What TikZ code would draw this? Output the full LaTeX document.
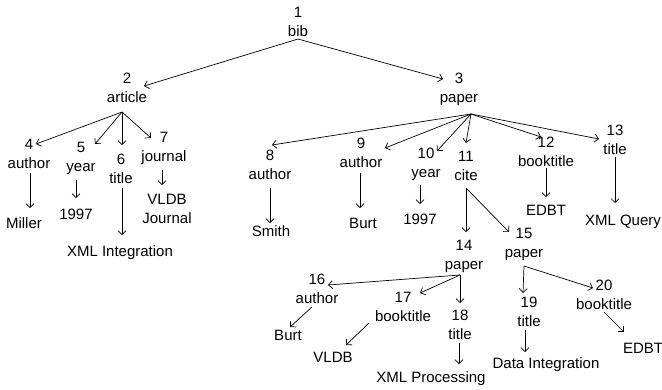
\documentclass[tikz,border=0pt]{standalone}
\usepackage{fontspec}
\setmainfont{Liberation Sans}
\usetikzlibrary{arrows.meta}
\begin{document}
\begin{tikzpicture}[x=1pt,y=-1pt,
  every node/.style={inner sep=0pt, font=\fontsize{15}{19}\selectfont},
  elem/.style={align=center, anchor=north},
  leaf/.style={anchor=base},
  edge/.style={line width=0.7pt, -{Straight Barb[length=4pt,width=8pt]}}]
\useasboundingbox (0,0) rectangle (662,389);
% element nodes
\node[elem] (n1) at (298,6.6) {1\\bib};
\node[elem] (n2) at (127,72.6) {2\\article};
\node[elem] (n3) at (459,72.6) {3\\paper};
\node[elem] (n4) at (29,138.6) {4\\author};
\node[elem] (n5) at (81,141.6) {5\\year};
\node[elem] (n6) at (121,153.6) {6\\title};
\node[elem] (n7) at (164,131.6) {7\\journal};
\node[elem] (n8) at (270,149.6) {8\\author};
\node[elem] (n9) at (361,137.6) {9\\author};
\node[elem] (n10) at (426,147.6) {10\\year};
\node[elem] (n11) at (466,150.6) {11\\cite};
\node[elem] (n12) at (546,136.6) {12\\booktitle};
\node[elem] (n13) at (615,124.6) {13\\title};
\node[elem] (n14) at (464,239.6) {14\\paper};
\node[elem] (n15) at (524,227.6) {15\\paper};
\node[elem] (n16) at (317,273.6) {16\\author};
\node[elem] (n17) at (403,291.6) {17\\booktitle};
\node[elem] (n18) at (460,309.6) {18\\title};
\node[elem] (n19) at (529,296.6) {19\\title};
\node[elem] (n20) at (604,279.6) {20\\booktitle};
% leaves
\node[leaf] (v4) at (24,228) {Miller};
\node[leaf] (v5) at (76,219) {1997};
\node[leaf] (v6) at (120,256) {XML Integration};
\node[elem] (v7) at (167,193.6) {VLDB\\Journal};
\node[leaf] (v8) at (271,236) {Smith};
\node[leaf] (v9) at (363,228) {Burt};
\node[leaf] (v10) at (420,224) {1997};
\node[leaf] (v12) at (546,215) {EDBT};
\node[leaf] (v13) at (623,225) {XML Query};
\node[leaf] (v16) at (288,340) {Burt};
\node[leaf] (v17) at (333,362) {VLDB};
\node[leaf] (v18) at (431,382) {XML Processing};
\node[leaf] (v19) at (546,368) {Data Integration};
\node[leaf] (v20) at (643,353) {EDBT};
% connector end points
\coordinate (o1) at (298,39);
\coordinate (o2) at (122,112);
\coordinate (o3) at (471,114);
\coordinate (o14) at (460,275);
\coordinate (o15) at (524,266);
\coordinate (o11) at (466,188);
\coordinate (i2) at (144,86);
\coordinate (i3) at (443,79);
\coordinate (i4) at (36,144);
\coordinate (i5) at (95,144);
\coordinate (i6) at (122,145);
\coordinate (i7) at (151,138);
\coordinate (i8) at (272,145);
\coordinate (i9) at (385,148);
\coordinate (i10) at (437,151);
\coordinate (i11) at (466,143);
\coordinate (i12) at (541,137);
\coordinate (i13) at (599,139);
\coordinate (i14) at (466,232);
\coordinate (i15) at (509,232);
\coordinate (i16) at (328,285);
\coordinate (i17) at (420,293);
\coordinate (i18) at (460,303);
\coordinate (i19) at (523,293);
\coordinate (i20) at (593,288);
% connectors
\draw[edge] (o1) -- (i2);
\draw[edge] (o1) -- (i3);
\draw[edge] (o2) -- (i4);
\draw[edge] (o2) -- (i5);
\draw[edge] (o2) -- (i6);
\draw[edge] (o2) -- (i7);
\draw[edge] (o3) -- (i8);
\draw[edge] (o3) -- (i9);
\draw[edge] (o3) -- (i10);
\draw[edge] (o3) -- (i11);
\draw[edge] (o3) -- (i12);
\draw[edge] (o3) -- (i13);
\draw[edge] (o11) -- (i14);
\draw[edge] (o11) -- (i15);
\draw[edge] (o14) -- (i16);
\draw[edge] (o14) -- (i17);
\draw[edge] (o14) -- (i18);
\draw[edge] (o15) -- (i19);
\draw[edge] (o15) -- (i20);
\draw[edge] (30,173) coordinate (a4) -- (30,208) coordinate (b4);
\draw[edge] (76,180) coordinate (a5) -- (76,198) coordinate (b5);
\draw[edge] (122,188) coordinate (a6) -- (122,235) coordinate (b6);
\draw[edge] (162,170) coordinate (a7) -- (162,185) coordinate (b7);
\draw[edge] (270,188) coordinate (a8) -- (270,223) coordinate (b8);
\draw[edge] (360,173) coordinate (a9) -- (360,208) coordinate (b9);
\draw[edge] (420,185) coordinate (a10) -- (420,204) coordinate (b10);
\draw[edge] (546,168) coordinate (a12) -- (546,197) coordinate (b12);
\draw[edge] (615,157) coordinate (a13) -- (615,203) coordinate (b13);
\draw[edge] (312,307) coordinate (a16) -- (290,327) coordinate (b16);
\draw[edge] (369,323) coordinate (a17) -- (346,345) coordinate (b17);
\draw[edge] (459,343) coordinate (a18) -- (459,364) coordinate (b18);
\draw[edge] (525,330) coordinate (a19) -- (525,352) coordinate (b19);
\draw[edge] (604,312) coordinate (a20) -- (624,332) coordinate (b20);
\end{tikzpicture}
\end{document}
